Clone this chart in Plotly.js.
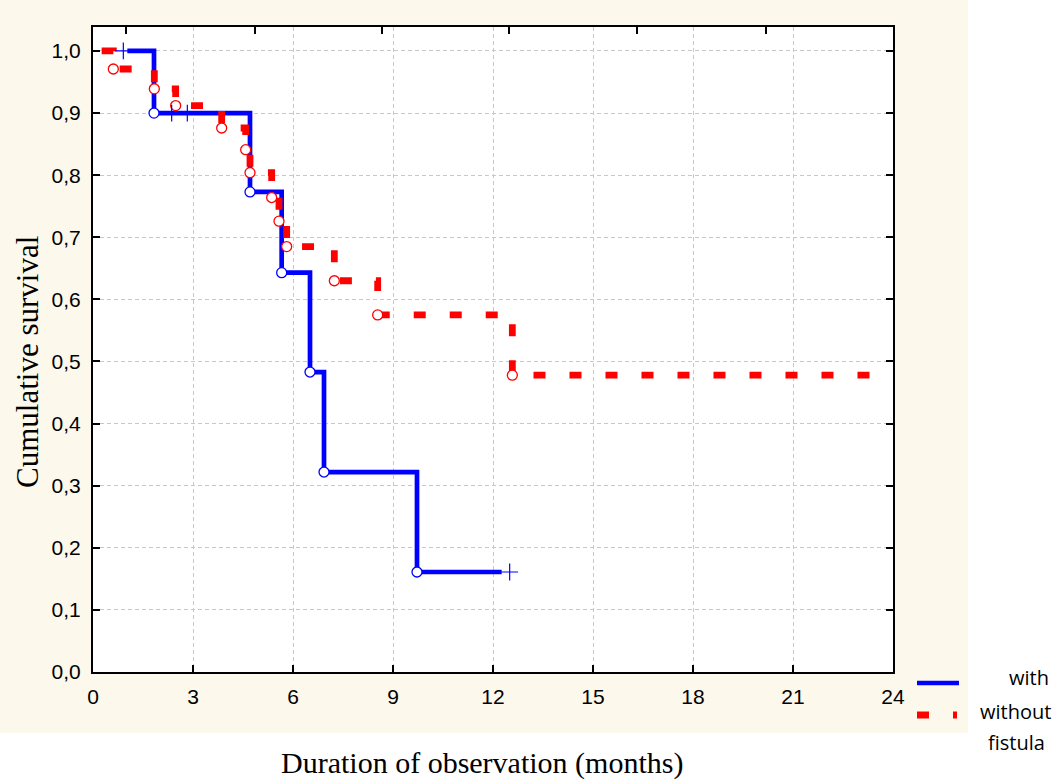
<!DOCTYPE html>
<html>
<head>
<meta charset="utf-8">
<script src="https://cdn.plot.ly/plotly-3.0.1.min.js"></script>
<style>
  html, body { margin: 0; padding: 0; background: #ffffff; }
  #chart { width: 1064px; height: 784px; }
</style>
</head>
<body>
<div id="chart"></div>
<script>
// ---------------- data (months, cumulative survival) ----------------
// "with" fistula group
const withStart = 1.03;
const withEnd = 12.26;
const withEventTimes = [1.83, 4.71, 5.66, 6.51, 6.93, 9.72];
const withEventSurv  = [0.900, 0.773, 0.643, 0.483, 0.322, 0.161];
const withCensorTimes = [0.91, 2.36, 2.83, 12.50];
const withCensorSurv  = [1.000, 0.900, 0.900, 0.161];

// "without fistula" group
const withoutStart = 0.26;
const withoutEnd = 23.52;
const withoutEventTimes = [0.61, 1.84, 2.48, 3.86, 4.58, 4.71, 5.36, 5.58, 5.81, 7.24, 8.54, 12.58];
const withoutEventSurv  = [0.971, 0.939, 0.912, 0.876, 0.841, 0.804, 0.764, 0.726, 0.685, 0.630, 0.575, 0.478];

// axes
const xTickVals = [0, 3, 6, 9, 12, 15, 18, 21, 24];
const xTickLabels = ["0", "3", "6", "9", "12", "15", "18", "21", "24"];
const yTickVals = [0, 0.1, 0.2, 0.3, 0.4, 0.5, 0.6, 0.7, 0.8, 0.9, 1.0];
const yTickLabels = ["0,0", "0,1", "0,2", "0,3", "0,4", "0,5", "0,6", "0,7", "0,8", "0,9", "1,0"];
const topTickVals = [0.99, 4.86, 8.67, 12.48, 16.32, 20.19];

const seriesNames = ["with", "without fistula"];
const xTitle = "Duration of observation (months)";
const yTitle = "Cumulative survival";

// ---------------- build step paths ----------------
function stepPath(start, times, surv, end) {
  const x = [start].concat(times).concat([end]);
  const y = [1.0].concat(surv).concat([surv[surv.length - 1]]);
  return { x, y };
}
const withPath = stepPath(withStart, withEventTimes, withEventSurv, withEnd);
const withoutPath = stepPath(withoutStart, withoutEventTimes, withoutEventSurv, withoutEnd);

const BLUE = "#0000ff";
const RED = "#ff0000";

const traces = [
  {
    x: withPath.x, y: withPath.y, mode: "lines", line: { shape: "hv", color: BLUE, width: 4.7 },
    name: seriesNames[0], showlegend: false, hoverinfo: "skip"
  },
  {
    x: withoutPath.x, y: withoutPath.y, mode: "lines",
    line: { shape: "hv", color: RED, width: 6.8, dash: "12px,24px" },
    name: seriesNames[1], showlegend: false, hoverinfo: "skip"
  },
  {
    x: withEventTimes, y: withEventSurv, mode: "markers",
    marker: { symbol: "circle", size: 10, color: "#ffffff", line: { color: BLUE, width: 1.3 } },
    showlegend: false, hoverinfo: "skip"
  },
  {
    x: withoutEventTimes, y: withoutEventSurv, mode: "markers",
    marker: { symbol: "circle", size: 10, color: "#ffffff", line: { color: RED, width: 1.3 } },
    showlegend: false, hoverinfo: "skip"
  },
  {
    x: withCensorTimes, y: withCensorSurv, mode: "markers",
    marker: { symbol: "cross-thin", size: 12, color: BLUE, line: { color: BLUE, width: 1.2 } },
    showlegend: false, hoverinfo: "skip"
  },
  {
    // carrier for the top (mirrored) tick axis
    x: topTickVals, y: topTickVals.map(() => null), xaxis: "x2", mode: "lines",
    showlegend: false, hoverinfo: "skip"
  }
];

// pixel helpers for paper-positioned decorations
const L = 93, R = 171, T = 27, B = 112, W = 1064, H = 784;
const PW = W - L - R, PH = H - T - B;
const px = (x) => (x - L) / PW;
const py = (y) => (H - B - y) / PH;

const CREAM = "#fdf8ec";
const tickFont = { family: "Liberation Sans, Arial, sans-serif", size: 21, color: "#000000" };
const titleFont = { family: "Liberation Serif, Times New Roman, serif", size: 31, color: "#000000" };
const xTitleFont = { family: "Liberation Serif, Times New Roman, serif", size: 30, color: "#000000" };
const legendFont = { family: "Open Sans, Noto Sans, sans-serif", size: 20, color: "#000000" };

const layout = {
  width: W, height: H,
  margin: { l: L, r: R, t: T, b: B, pad: 0 },
  paper_bgcolor: CREAM,
  plot_bgcolor: "#ffffff",
  showlegend: false,
  xaxis: {
    range: [0, 24], tickmode: "array", tickvals: xTickVals, ticktext: xTickLabels,
    ticks: "inside", ticklen: 7, tickwidth: 2, tickcolor: "#000000",
    showline: true, linecolor: "#000000", linewidth: 2, mirror: true,
    showgrid: true, gridcolor: "#c8c8c8", gridwidth: 1, griddash: "4px,3px",
    zeroline: false, tickfont: tickFont, fixedrange: true, ticklabelstandoff: 5
  },
  xaxis2: {
    overlaying: "x", side: "top", anchor: "y", range: [0, 24],
    tickmode: "array", tickvals: topTickVals, showticklabels: false,
    ticks: "inside", ticklen: 7, tickwidth: 2, tickcolor: "#000000",
    showline: false, showgrid: false, zeroline: false, fixedrange: true
  },
  yaxis: {
    range: [0, 1.0386], tickmode: "array", tickvals: yTickVals, ticktext: yTickLabels,
    ticks: "inside", ticklen: 7, tickwidth: 2, tickcolor: "#000000",
    showline: true, linecolor: "#000000", linewidth: 2, mirror: "ticks",
    showgrid: true, gridcolor: "#c8c8c8", gridwidth: 1, griddash: "4px,3px",
    zeroline: false, tickfont: tickFont, fixedrange: true, ticklabelstandoff: 6
  },
  shapes: [
    // white page area outside the cream panel
    { type: "rect", xref: "paper", yref: "paper", x0: px(968), x1: px(1064) + 0.1, y0: py(784) - 0.1, y1: py(0) + 0.1,
      fillcolor: "#ffffff", line: { width: 0 }, layer: "below" },
    { type: "rect", xref: "paper", yref: "paper", x0: px(0) - 0.1, x1: px(1064) + 0.1, y0: py(784) - 0.1, y1: py(733),
      fillcolor: "#ffffff", line: { width: 0 }, layer: "below" },
    // legend samples
    { type: "line", xref: "paper", yref: "paper", x0: px(917), x1: px(959), y0: py(683), y1: py(683),
      line: { color: BLUE, width: 4.5 } },
    { type: "line", xref: "paper", yref: "paper", x0: px(917), x1: px(957), y0: py(715), y1: py(715),
      line: { color: RED, width: 6.8, dash: "12px,24px" } }
  ],
  annotations: [
    { text: xTitle, xref: "paper", yref: "paper", x: px(482), y: py(763), xanchor: "center", yanchor: "middle",
      showarrow: false, font: xTitleFont },
    { text: yTitle, xref: "paper", yref: "paper", x: px(27), y: py(362), xanchor: "center", yanchor: "middle",
      textangle: -90, showarrow: false, font: titleFont },
    { text: seriesNames[0], xref: "paper", yref: "paper", x: px(1051), y: py(677), xanchor: "right", yanchor: "middle",
      showarrow: false, font: legendFont },
    { text: "without", xref: "paper", yref: "paper", x: px(1015), y: py(711), xanchor: "center", yanchor: "middle",
      showarrow: false, font: legendFont },
    { text: "fistula", xref: "paper", yref: "paper", x: px(1016), y: py(742), xanchor: "center", yanchor: "middle",
      showarrow: false, font: legendFont }
  ]
};

Plotly.newPlot("chart", traces, layout, { displayModeBar: false, staticPlot: true });
</script>
</body>
</html>
